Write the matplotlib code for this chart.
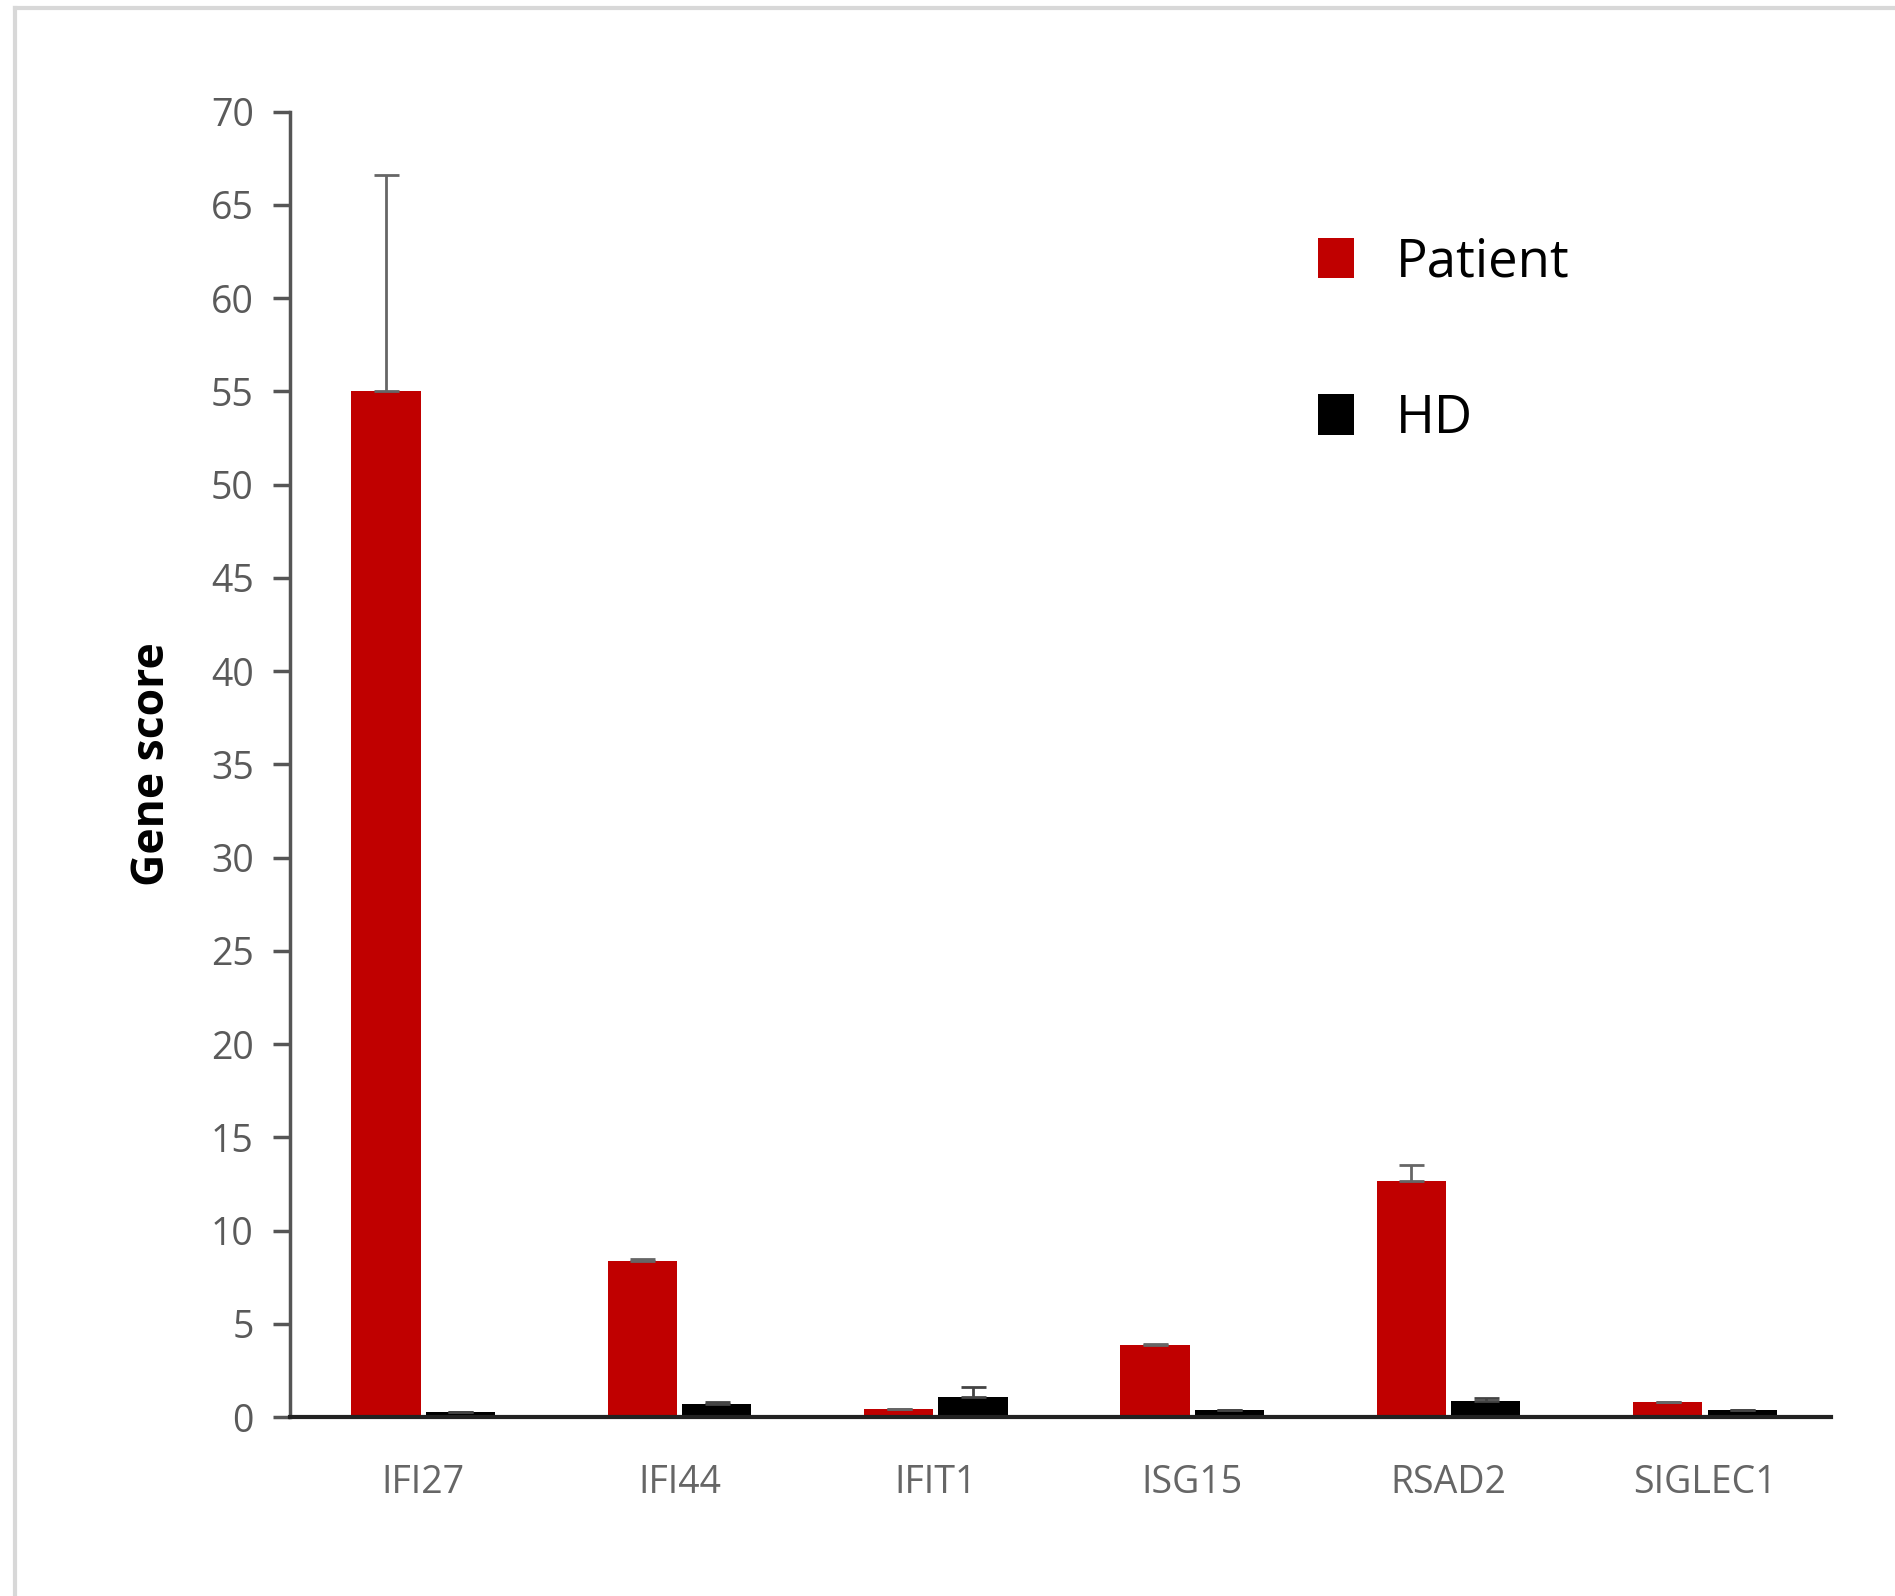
import numpy as np
import matplotlib
matplotlib.use("Agg")
import matplotlib.pyplot as plt
from matplotlib.lines import Line2D

plt.rcParams['font.family'] = ['Open Sans', 'DejaVu Sans']

# data
genes = ["IFI27", "IFI44", "IFIT1", "ISG15", "RSAD2", "SIGLEC1"]
patient = [55.0, 8.4, 0.45, 3.9, 12.65, 0.8]
patient_err = [11.6, 0.1, 0.0, 0.05, 0.85, 0.0]
hd = [0.3, 0.7, 1.1, 0.4, 0.85, 0.4]
hd_err = [0.0, 0.1, 0.5, 0.0, 0.2, 0.0]
yticks = list(range(0, 75, 5))

red = "#c00000"
tick_grey = "#5a5a5a"

fig = plt.figure(figsize=(18.95, 15.96), dpi=100)
ax = fig.add_axes([0.153, 0.112, 0.813, 0.818])

x = np.arange(len(genes))
w = 0.27
off = 0.145

ax.bar(x - off, patient, width=w, color=red, label="Patient",
       yerr=[np.zeros(len(genes)), patient_err],
       error_kw=dict(ecolor="#666666", elinewidth=2, capsize=9, capthick=2))
ax.bar(x + off, hd, width=w, color="black", label="HD",
       yerr=[np.zeros(len(genes)), hd_err],
       error_kw=dict(ecolor="#444444", elinewidth=2, capsize=9, capthick=2))

ax.set_xlim(-0.52, 5.49)
ax.set_ylim(0, 70)
ax.set_yticks(yticks)
ax.set_xticks(x)
ax.set_xticklabels(genes)

for s in ["top", "right"]:
    ax.spines[s].set_visible(False)
ax.spines["left"].set_color("#555555")
ax.spines["left"].set_linewidth(2.5)
ax.spines["bottom"].set_color("#222222")
ax.spines["bottom"].set_linewidth(3)

ax.tick_params(axis="y", direction="out", length=12, width=2.5,
               color="#555555", labelsize=27, labelcolor=tick_grey, pad=14)
ax.tick_params(axis="x", length=0, labelsize=27, labelcolor="#666666", pad=34)

ax.set_ylabel("Gene score", fontsize=32, fontweight="bold", labelpad=26)

ax.legend(loc="upper left", bbox_to_anchor=(0.65, 0.925), frameon=False,
          fontsize=38, handlelength=0.68, handleheight=0.8,
          handletextpad=0.8, labelspacing=1.95, borderpad=0)

# light border of the original panel
fig.add_artist(Line2D([15 / 1895, 1.0], [1 - 8 / 1596, 1 - 8 / 1596],
                      transform=fig.transFigure, color="#d8d8d8", lw=3))
fig.add_artist(Line2D([15 / 1895, 15 / 1895], [0.0, 1 - 8 / 1596],
                      transform=fig.transFigure, color="#d8d8d8", lw=3))

fig.savefig("out.png", dpi=100)
